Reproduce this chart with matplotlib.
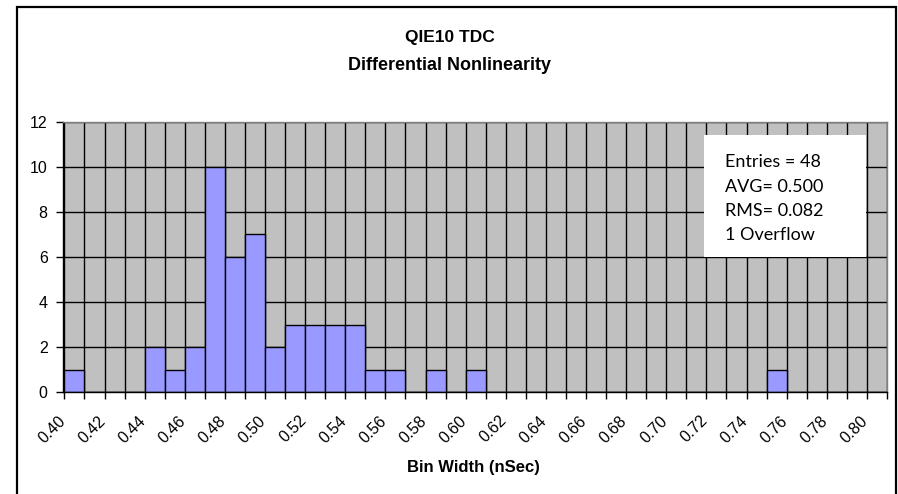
import matplotlib.pyplot as plt
import matplotlib.patches as mpatches
import numpy as np

# bin labels 0.40 .. 0.80 (one column per 0.01 nSec)
bin_lo = [round(0.40 + 0.01 * i, 2) for i in range(41)]
counts = [1, 0, 0, 0, 2, 1, 2, 10, 6, 7,
          2, 3, 3, 3, 3, 1, 1, 0, 1, 0,
          1, 0, 0, 0, 0, 0, 0, 0, 0, 0,
          0, 0, 0, 0, 0, 1, 0, 0, 0, 0,
          0]
stats_lines = ["Entries = 48", "AVG= 0.500", "RMS= 0.082", "1 Overflow"]
title_lines = ["QIE10 TDC", "Differential Nonlinearity"]
xlabel = "Bin Width (nSec)"

W, H = 898, 494
plt.rcParams['font.family'] = ['Liberation Sans', 'DejaVu Sans']

fig = plt.figure(figsize=(W / 100, H / 100), dpi=100)
ax = fig.add_axes([63 / W, (H - 392) / H, 824 / W, 270 / H])

n = len(counts)
idx = np.arange(n)
ax.bar(idx + 0.5, counts, width=1.0, color='#9999FF', edgecolor='black',
       linewidth=1.0, zorder=2)

ax.set_facecolor('#C0C0C0')
ax.set_xlim(0, n)
ax.set_ylim(0, 12)
ax.set_yticks(range(0, 13, 2))
ax.set_axisbelow(True)

# tick marks and vertical grid at every bin edge
ax.set_xticks(np.arange(n + 1))
ax.set_xticklabels([])
ax.tick_params(axis='x', which='major', direction='out', length=5, width=1)
# labels every other bin, hung off the left edge of the bin
lab_idx = np.arange(0, n, 2)
ax.set_xticks(lab_idx - 0.07, minor=True)
ax.set_xticklabels(['%.2f' % bin_lo[i] for i in lab_idx], minor=True,
                   rotation=45, ha='right', va='center',
                   rotation_mode='anchor', fontsize=11.5)
ax.tick_params(axis='x', which='minor', length=0, pad=19)

ax.tick_params(axis='y', direction='out', length=5, width=1, pad=6,
               labelsize=11.5)
ax.grid(True, which='major', color='black', linewidth=1)

for s in ['left', 'bottom']:
    ax.spines[s].set_color('black')
    ax.spines[s].set_linewidth(1)
for s in ['top', 'right']:
    ax.spines[s].set_color('#808080')
    ax.spines[s].set_linewidth(1)

ax.set_xlabel(xlabel, fontsize=12, fontweight='bold', va='baseline')
ax.xaxis.set_label_coords((473.5 - 63) / 824, (392 - 472) / 270)

# stats box
x0, x1 = (704 - 63) / 824, (866 - 63) / 824
y0, y1 = (392 - 257) / 270, (392 - 135) / 270
ax.add_patch(mpatches.Rectangle((x0, y0), x1 - x0, y1 - y0,
                                transform=ax.transAxes, facecolor='white',
                                edgecolor='none', zorder=5))
for k, line in enumerate(stats_lines):
    ax.text((725 - 63) / 824, (392 - (167 + 24.5 * k)) / 270, line,
            transform=ax.transAxes, fontsize=13, family=['Lato', 'DejaVu Sans'],
            ha='left', va='baseline', zorder=6)

# title
fig.text(450 / W, 1 - 42 / H, title_lines[0], ha='center', va='baseline',
         fontsize=12.5, fontweight='bold')
fig.text(450 / W, 1 - 70 / H, title_lines[1], ha='center', va='baseline',
         fontsize=13, fontweight='bold')

# chart area border
fig.patches.append(mpatches.Rectangle((17 / W, -0.05), (896 - 17) / W,
                                      1.05 - 7 / H, transform=fig.transFigure,
                                      facecolor='none', edgecolor='black',
                                      linewidth=1.6))

fig.savefig('out.png', dpi=100)
